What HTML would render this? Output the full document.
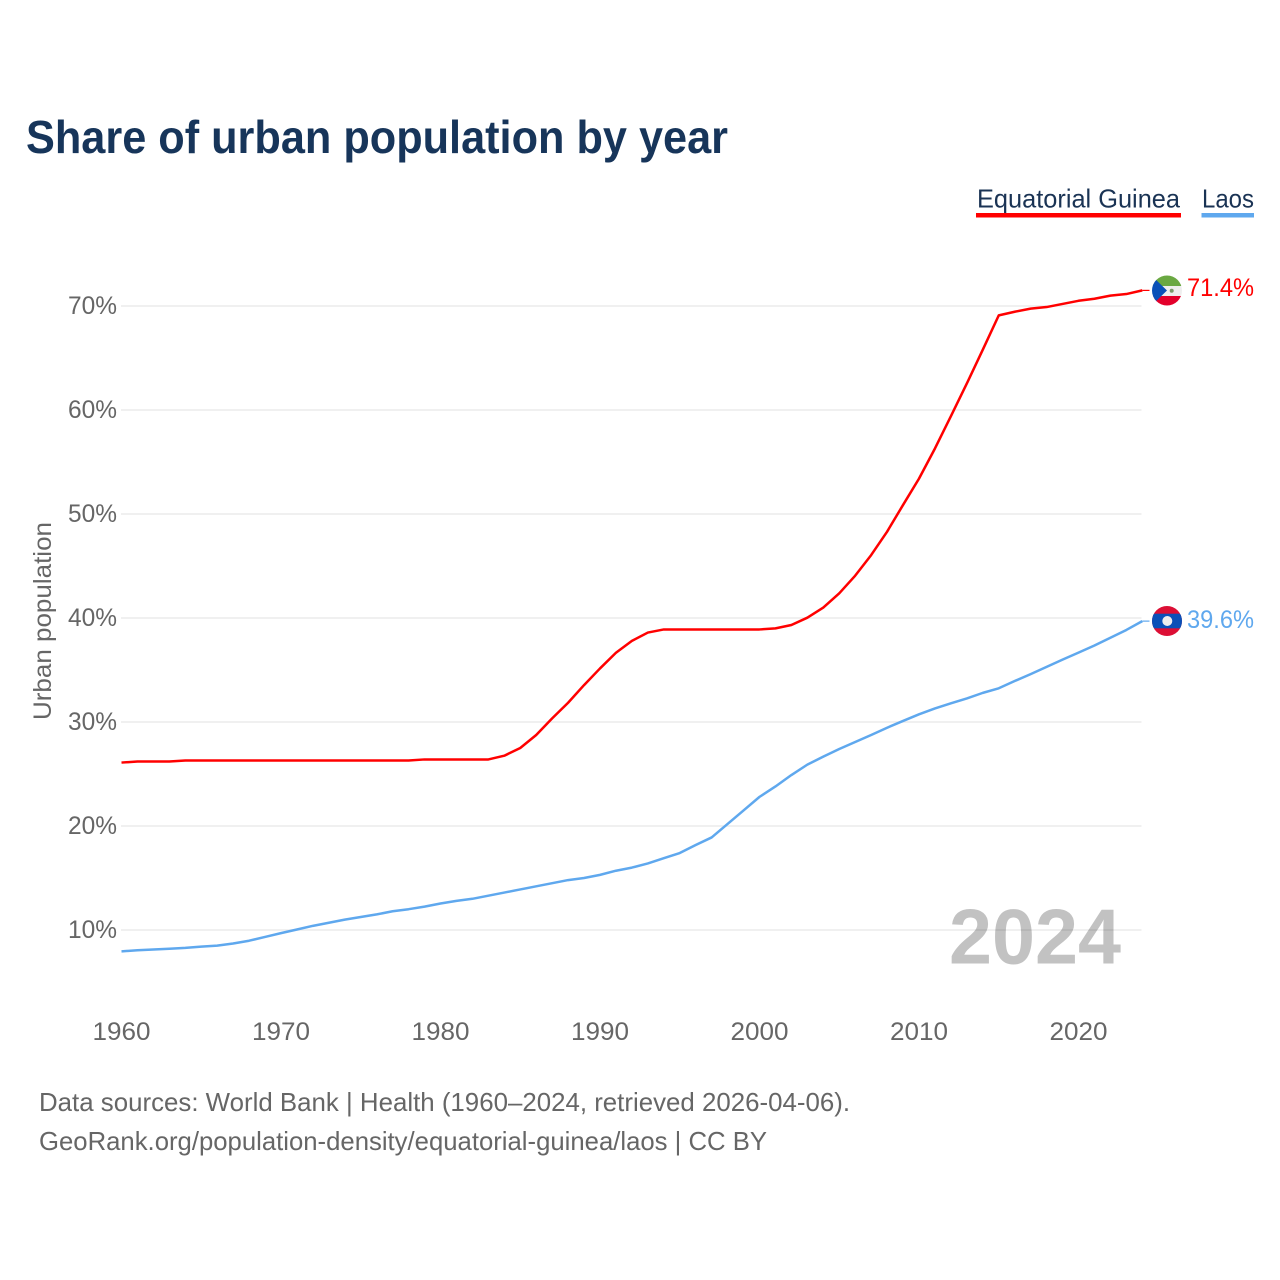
<!DOCTYPE html>
<html lang="en">
<head>
<meta charset="utf-8">
<title>Share of urban population by year</title>
<style>
html,body{margin:0;padding:0;background:#fff;width:1280px;height:1280px;overflow:hidden}
svg{display:block}
text{font-family:"Liberation Sans",sans-serif}
</style>
</head>
<body>
<svg id="chart" width="1280" height="1280" viewBox="0 0 1280 1280" xmlns="http://www.w3.org/2000/svg">
  <defs>
    <clipPath id="flag-clip-gq"><circle cx="1167" cy="290.5" r="15"/></clipPath>
    <clipPath id="flag-clip-la"><circle cx="1167" cy="621" r="15"/></clipPath>
  </defs>
  <rect width="1280" height="1280" fill="#fff"/>
  <text x="26" y="153" font-size="46.5" font-weight="700" fill="#17355a" textLength="702" lengthAdjust="spacingAndGlyphs">Share of urban population by year</text>
  <g>
    <g>
      <text x="977" y="207.5" font-size="26" fill="#1a3354" textLength="203" lengthAdjust="spacingAndGlyphs">Equatorial Guinea</text>
      <rect x="976" y="213" width="205" height="4.5" fill="#ff0000"/>
    </g>
    <g>
      <text x="1202" y="207.5" font-size="26" fill="#1a3354" textLength="52" lengthAdjust="spacingAndGlyphs">Laos</text>
      <rect x="1201.5" y="213" width="52.5" height="4.5" fill="#5fa8ee"/>
    </g>
  </g>
  <text x="949" y="963.5" font-size="78" font-weight="700" fill="#c2c2c2" textLength="172" lengthAdjust="spacingAndGlyphs">2024</text>
  <g id="grid"></g>
  <g id="y-ticks"></g>
  <g id="x-ticks"></g>
  <text transform="translate(51,621) rotate(-90)" text-anchor="middle" font-size="25" fill="#666" textLength="198" lengthAdjust="spacingAndGlyphs">Urban population</text>
  <g id="series"></g>
  <g clip-path="url(#flag-clip-gq)">
    <rect x="1152" y="275.5" width="30" height="10.5" fill="#6aa842"/>
    <rect x="1152" y="286" width="30" height="10" fill="#eeeeee"/>
    <rect x="1152" y="296" width="30" height="10" fill="#e3002b"/>
    <polygon points="1151,275 1151,306 1167,290.5" fill="#0a50b8"/>
    <circle cx="1171.7" cy="290.7" r="2" fill="#7a9a6a"/>
  </g>
  <g clip-path="url(#flag-clip-la)">
    <rect x="1152" y="606" width="30" height="30" fill="#dc0f35"/>
    <rect x="1152" y="613.7" width="30" height="14.6" fill="#0a50b8"/>
    <circle cx="1167.3" cy="621" r="5" fill="#eeeeee"/>
  </g>
  <text x="1187" y="296" font-size="25" fill="#ff0000" textLength="67" lengthAdjust="spacingAndGlyphs">71.4%</text>
  <text x="1187" y="628" font-size="25" fill="#5fa8ee" textLength="67" lengthAdjust="spacingAndGlyphs">39.6%</text>
  <text x="39" y="1111" font-size="26" fill="#666" textLength="811" lengthAdjust="spacingAndGlyphs">Data sources: World Bank | Health (1960–2024, retrieved 2026-04-06).</text>
  <text x="39" y="1150" font-size="26" fill="#666" textLength="728" lengthAdjust="spacingAndGlyphs">GeoRank.org/population-density/equatorial-guinea/laos | CC BY</text>
</svg>
<script>
const startYear = 1960;
const xTickYears = [1960, 1970, 1980, 1990, 2000, 2010, 2020];
const yTickValues = [10, 20, 30, 40, 50, 60, 70];
const equatorialGuinea = [
  26.1, 26.2, 26.2, 26.2, 26.3, 26.3, 26.3, 26.3, 26.3, 26.3,
  26.3, 26.3, 26.3, 26.3, 26.3, 26.3, 26.3, 26.3, 26.3, 26.4,
  26.4, 26.4, 26.4, 26.4, 26.76, 27.5, 28.75, 30.35, 31.85, 33.55,
  35.15, 36.66, 37.8, 38.6, 38.9, 38.9, 38.9, 38.9, 38.9, 38.9,
  38.9, 39.0, 39.33, 40.03, 41.0, 42.37, 44.07, 46.05, 48.3, 50.87,
  53.4, 56.3, 59.4, 62.55, 65.8, 69.1, 69.45, 69.75, 69.9, 70.2,
  70.5, 70.7, 71.0, 71.15, 71.5
];
const laos = [
  7.95, 8.05, 8.12, 8.2, 8.28, 8.4, 8.5, 8.7, 8.97, 9.33,
  9.7, 10.05, 10.4, 10.7, 11.0, 11.25, 11.5, 11.8, 12.0, 12.25,
  12.55, 12.8, 13.0, 13.3, 13.6, 13.9, 14.2, 14.5, 14.8, 15.0,
  15.3, 15.7, 16.0, 16.4, 16.9, 17.4, 18.17, 18.9, 20.2, 21.5,
  22.8, 23.8, 24.9, 25.9, 26.67, 27.4, 28.08, 28.75, 29.45, 30.1,
  30.74, 31.3, 31.8, 32.27, 32.8, 33.24, 33.94, 34.6, 35.3, 36.0,
  36.67, 37.36, 38.1, 38.85, 39.7
];

const svgNS = 'http://www.w3.org/2000/svg';
const xScale = year => 121.5 + (year - startYear) * 15.95;
const yScale = value => 1034 - value * 10.4;

const gridGroup = document.getElementById('grid');
const yTickGroup = document.getElementById('y-ticks');
const xTickGroup = document.getElementById('x-ticks');
const seriesGroup = document.getElementById('series');

yTickValues.forEach(value => {
  const line = document.createElementNS(svgNS, 'line');
  
  
  line.setAttribute('x1', 121);
  line.setAttribute('x2', 1141.5);
  line.setAttribute('y1', yScale(value));
  line.setAttribute('y2', yScale(value));
  line.setAttribute('stroke', 'rgba(0,0,0,0.08)');
  line.setAttribute('stroke-width', 1.5);
  gridGroup.appendChild(line);

  const label = document.createElementNS(svgNS, 'text');
  
  
  label.setAttribute('x', 68);
  label.setAttribute('y', yScale(value) + 8);
  label.setAttribute('font-size', 25);
  label.setAttribute('fill', '#666');
  label.setAttribute('textLength', 49);
  label.setAttribute('lengthAdjust', 'spacingAndGlyphs');
  label.textContent = value + '%';
  yTickGroup.appendChild(label);
});

xTickYears.forEach(year => {
  const label = document.createElementNS(svgNS, 'text');
  
  
  label.setAttribute('x', xScale(year) - 29);
  label.setAttribute('y', 1040);
  label.setAttribute('font-size', 25);
  label.setAttribute('fill', '#666');
  label.setAttribute('textLength', 58);
  label.setAttribute('lengthAdjust', 'spacingAndGlyphs');
  label.textContent = year;
  xTickGroup.appendChild(label);
});

function buildPath(values) {
  const points = values.map((value, index) => xScale(startYear + index).toFixed(2) + ',' + yScale(value).toFixed(2));
  return 'M' + points.join('L');
}

function buildLeader(values) {
  const lastIndex = values.length - 1;
  const lastY = yScale(values[lastIndex]).toFixed(2);
  return 'M' + xScale(startYear + lastIndex).toFixed(2) + ',' + lastY + 'L1149.5,' + lastY;
}

const guineaLine = document.createElementNS(svgNS, 'path');


guineaLine.setAttribute('d', buildPath(equatorialGuinea));
guineaLine.setAttribute('fill', 'none');
guineaLine.setAttribute('stroke', '#ff0000');
guineaLine.setAttribute('stroke-width', 2.5);
guineaLine.setAttribute('stroke-linejoin', 'round');
seriesGroup.appendChild(guineaLine);

const guineaLeader = document.createElementNS(svgNS, 'path');


guineaLeader.setAttribute('d', buildLeader(equatorialGuinea));
guineaLeader.setAttribute('fill', 'none');
guineaLeader.setAttribute('stroke', '#ff0000');
guineaLeader.setAttribute('stroke-width', 1.2);
seriesGroup.appendChild(guineaLeader);

const laosLine = document.createElementNS(svgNS, 'path');


laosLine.setAttribute('d', buildPath(laos));
laosLine.setAttribute('fill', 'none');
laosLine.setAttribute('stroke', '#5fa8ee');
laosLine.setAttribute('stroke-width', 2.5);
laosLine.setAttribute('stroke-linejoin', 'round');
seriesGroup.appendChild(laosLine);

const laosLeader = document.createElementNS(svgNS, 'path');


laosLeader.setAttribute('d', buildLeader(laos));
laosLeader.setAttribute('fill', 'none');
laosLeader.setAttribute('stroke', '#5fa8ee');
laosLeader.setAttribute('stroke-width', 1.2);
seriesGroup.appendChild(laosLeader);
</script>
</body>
</html>
